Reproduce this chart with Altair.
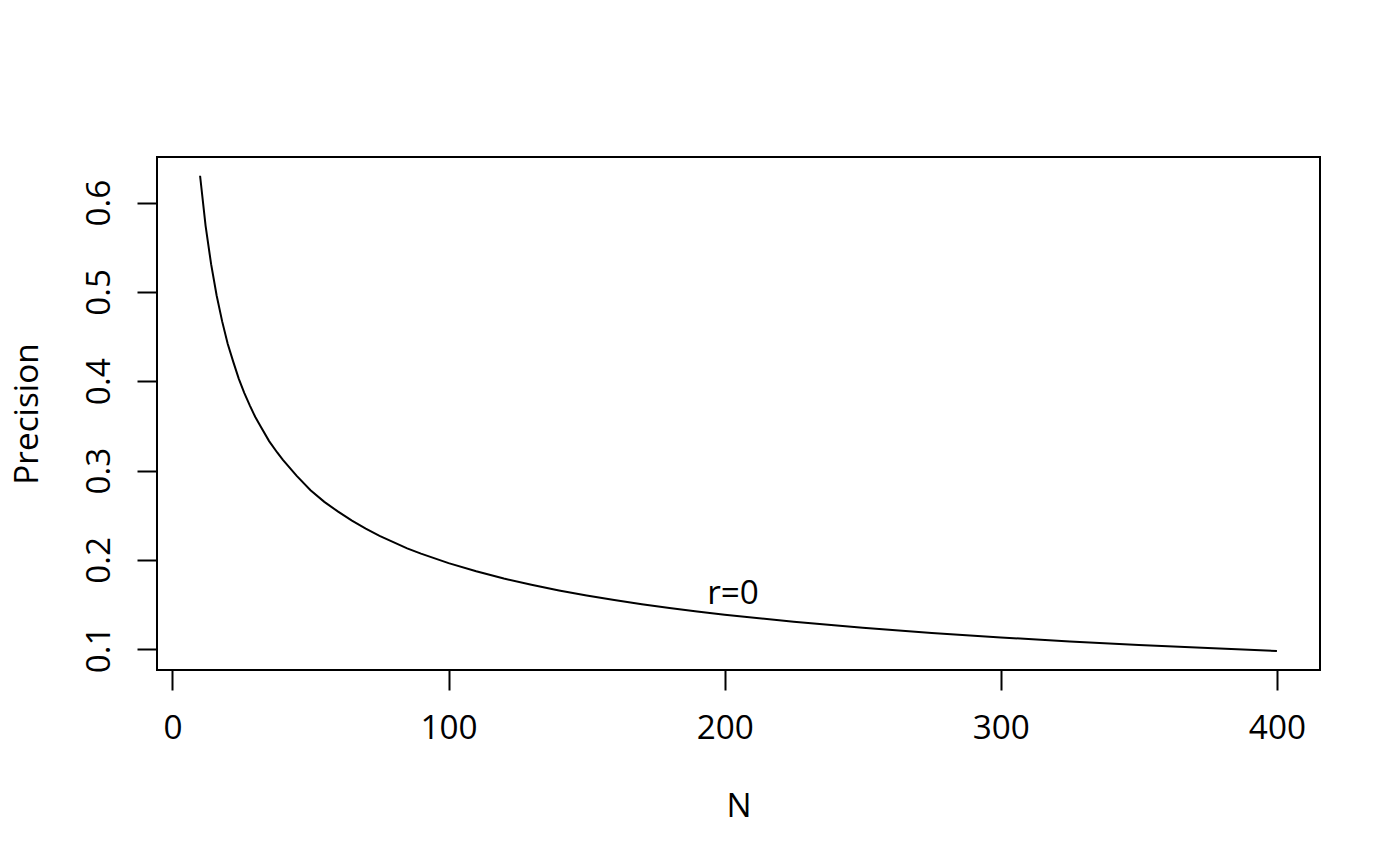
import altair as alt
import pandas as pd

# values
n_values = [10, 12, 14, 16, 18, 20, 22, 24, 26, 28, 30, 32, 35, 38, 40, 45,
            50, 55, 60, 65, 70, 75, 80, 85, 90, 100, 110, 120, 130, 140, 150,
            160, 170, 180, 190, 200, 225, 250, 275, 300, 325, 350, 375, 400]
precision = [0.630, 0.574, 0.531, 0.496, 0.467, 0.442, 0.422, 0.403, 0.387,
             0.373, 0.360, 0.349, 0.333, 0.320, 0.312, 0.294, 0.278, 0.265,
             0.254, 0.244, 0.235, 0.227, 0.220, 0.213, 0.207, 0.1964, 0.1873,
             0.1792, 0.1722, 0.1659, 0.1603, 0.1551, 0.1505, 0.1462, 0.1423,
             0.1387, 0.1308, 0.1241, 0.1183, 0.1132, 0.1088, 0.1048, 0.1013,
             0.0981]

x_ticks = [0, 100, 200, 300, 400]
y_ticks = [0.1, 0.2, 0.3, 0.4, 0.5, 0.6]

label_n = [203]
label_y = [0.1507]
label_text = ["r=0"]

df = pd.DataFrame({"N": n_values, "Precision": precision})
df_label = pd.DataFrame({"N": label_n, "Precision": label_y, "text": label_text})

FONT = "Open Sans"
FS = 33.3

x_scale = alt.Scale(domain=[-5.6, 415.6], nice=False, zero=False)
y_scale = alt.Scale(domain=[0.0768, 0.651], nice=False, zero=False)

x_axis = alt.Axis(
    values=x_ticks, domain=False, grid=False,
    tickSize=20, tickWidth=2, tickColor="black",
    labelFont=FONT, labelFontSize=FS, labelColor="black",
    labelBaseline="alphabetic", labelPadding=48, labelFlush=False,
    title="N", titleFont=FONT, titleFontSize=FS, titleFontWeight="normal",
    titleColor="black", titleBaseline="alphabetic", titleAlign="center",
    titleX=581.5, titleY=146,
)
y_axis = alt.Axis(
    values=y_ticks, domain=False, grid=False, format=".1f",
    tickSize=20, tickWidth=2, tickColor="black",
    labelFont=FONT, labelFontSize=FS, labelColor="black", labelAngle=270,
    labelAlign="center", labelBaseline="alphabetic", labelPadding=27.5,
    labelFlush=False,
    title="Precision", titleFont=FONT, titleFontSize=FS,
    titleFontWeight="normal", titleColor="black", titleAngle=270,
    titleBaseline="alphabetic", titleAlign="center",
    titleX=-120, titleY=256.5,
)

curve = alt.Chart(df).mark_line(color="black", strokeWidth=2).encode(
    x=alt.X("N:Q", scale=x_scale, axis=x_axis),
    y=alt.Y("Precision:Q", scale=y_scale, axis=y_axis),
)

label = alt.Chart(df_label).mark_text(
    font=FONT, fontSize=FS, color="black", align="center", baseline="alphabetic"
).encode(
    x=alt.X("N:Q", scale=x_scale),
    y=alt.Y("Precision:Q", scale=y_scale),
    text="text:N",
)

chart = (curve + label).properties(
    width=1163,
    height=513,
    autosize=alt.AutoSizeParams(type="none"),
    padding={"left": 149, "top": 149, "right": 60, "bottom": 180},
    background="white",
).configure_view(stroke="black", strokeWidth=2)

chart.save("out.html", embed_options={"renderer": "svg", "actions": False})
